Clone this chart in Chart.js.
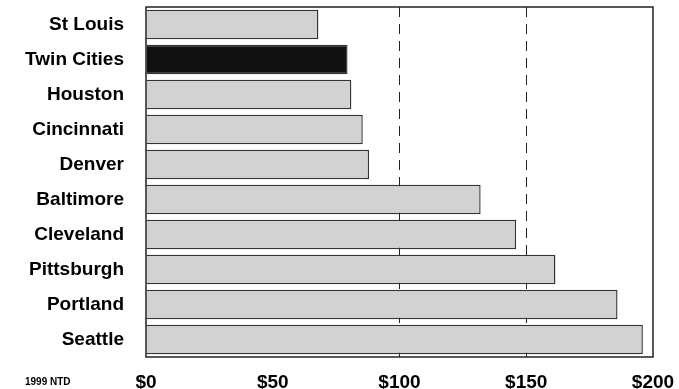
<!DOCTYPE html>
<html>
<head>
<meta charset="utf-8">
<script src="https://cdn.jsdelivr.net/npm/chart.js@4"></script>
<style>
  html, body { margin: 0; padding: 0; background: #fff; }
  #wrap { width: 679px; height: 389px; }
</style>
</head>
<body>
<div id="wrap"><canvas id="grfk"></canvas></div>
<script>
// data
const cities = ['St Louis', 'Twin Cities', 'Houston', 'Cincinnati', 'Denver',
                'Baltimore', 'Cleveland', 'Pittsburgh', 'Portland', 'Seattle'];
const costs = [68, 79.5, 81, 85.5, 88, 132, 146, 161.5, 186, 196];
const xTicks = [0, 50, 100, 150, 200];
const highlight = 'Twin Cities';
const dashedAt = [100, 150];

// box around the plot + the little source note
const frame = {
    id: 'frame',
    afterDraw(chart) {
        const c = chart.ctx, a = chart.chartArea;
        c.save();
        c.strokeStyle = '#222';
        c.lineWidth = 1.5;
        c.strokeRect(a.left, a.top, a.right - a.left, a.bottom - a.top);
        c.fillStyle = '#000';
        c.font = 'bold 10px "Liberation Sans", Arial, sans-serif';
        c.textBaseline = 'middle';
        c.fillText('1999 NTD', 25, 382);
        c.restore();
    }
};

const ctx = document.getElementById('grfk').getContext('2d');
new Chart(ctx, {
    type: 'bar',
    data: {
        labels: cities,
        datasets: [{
            data: costs,
            backgroundColor: cities.map(c => c === highlight ? '#111' : '#d2d2d2'),
            borderColor: '#333',
            borderWidth: 1.4,
            barPercentage: 0.84,
            categoryPercentage: 1
        }]
    },
    options: {
        indexAxis: 'y',
        responsive: true,
        maintainAspectRatio: false,
        animation: false,
        layout: { padding: { top: 7, right: 26, left: 0, bottom: 0 } },
        plugins: { legend: { display: false }, tooltip: { enabled: false } },
        scales: {
            x: {
                min: 0, max: 200,
                afterBuildTicks: axis => { axis.ticks = xTicks.map(v => ({ value: v })); },
                afterFit: axis => { axis.height = 32; },
                ticks: {
                    color: '#000',
                    padding: 2,
                    maxRotation: 0,
                    font: { family: '"Liberation Sans", Arial, sans-serif', size: 19, weight: 'bold' },
                    callback: v => '$' + v
                },
                grid: {
                    drawTicks: true,
                    tickLength: 12,
                    tickColor: 'rgba(0,0,0,0)',
                    color: c => dashedAt.includes(c.tick && c.tick.value) ? '#222' : 'rgba(0,0,0,0)',
                    lineWidth: 1
                },
                border: { display: false, dash: [10, 7] }
            },
            y: {
                afterFit: axis => { axis.width = 146; },
                ticks: {
                    color: '#000',
                    padding: 0,
                    font: { family: '"Liberation Sans", Arial, sans-serif', size: 19, weight: 'bold', lineHeight: 0.7 }
                },
                grid: {
                    drawOnChartArea: false,
                    drawTicks: true,
                    tickLength: 22,
                    tickColor: 'rgba(0,0,0,0)'
                },
                border: { display: false }
            }
        }
    },
    plugins: [frame]
});
</script>
</body>
</html>
